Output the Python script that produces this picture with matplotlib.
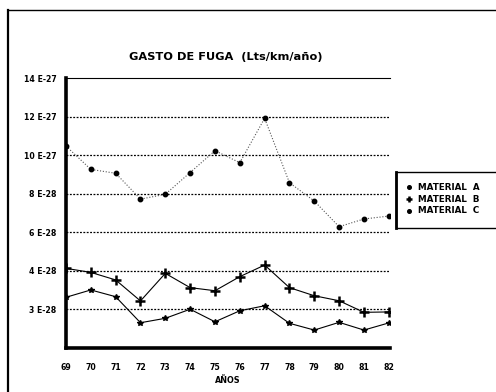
import matplotlib
matplotlib.use("Agg")
import matplotlib.pyplot as plt
from matplotlib.patches import Rectangle
from matplotlib.lines import Line2D

plt.rcParams['font.family'] = ['DejaVu Sans']

years = [69, 70, 71, 72, 73, 74, 75, 76, 77, 78, 79, 80, 81, 82]
year_labels = [str(y) for y in years]
material_a = [10.47, 9.26, 9.06, 7.72, 7.97, 9.1, 10.23, 9.61, 11.91, 8.57, 7.62, 6.29, 6.69, 6.84]
material_b = [4.13, 3.92, 3.53, 2.44, 3.87, 3.13, 2.97, 3.70, 4.30, 3.13, 2.71, 2.45, 1.85, 1.87]
material_c = [2.63, 3.01, 2.66, 1.31, 1.54, 2.01, 1.36, 1.93, 2.19, 1.28, 0.93, 1.33, 0.93, 1.30]
ytick_vals = [2, 4, 6, 8, 10, 12, 14]
ytick_labels = ["3 E-28", "4 E-28", "6 E-28", "8 E-28", "10 E-27", "12 E-27", "14 E-27"]
series_names = ["MATERIAL  A", "MATERIAL  B", "MATERIAL  C"]

fig = plt.figure(figsize=(4.96, 3.92), dpi=100)

# outer frame of the page
fig.add_artist(Line2D([8/496, 8/496], [0, 1 - 10/392], transform=fig.transFigure,
                      color='black', lw=1.6))
fig.add_artist(Line2D([8/496, 1], [1 - 10/392, 1 - 10/392], transform=fig.transFigure,
                      color='black', lw=1.0))

ax = fig.add_axes([66/496, 1 - 348/392, 324/496, 270/392])
ax.set_xlim(69, 82.05)
ax.set_ylim(0, 14)

for v in ytick_vals[:-1]:
    ax.axhline(v, color='black', lw=0.9, ls=(0, (1.5, 1.2)), zorder=1)

ax.plot(years, material_a, color='#555555', lw=0.8, ls=(0, (1, 1.6)),
        marker='o', ms=3.2, mfc='black', mec='black', zorder=3)
ax.plot(years, material_b, color='black', lw=0.8, ls='-',
        marker='+', ms=7, mew=1.8, mec='black', zorder=3)
ax.plot(years, material_c, color='black', lw=0.8, ls='-',
        marker='*', ms=4, mfc='black', mec='black', zorder=3)

ax.spines['right'].set_visible(False)
ax.spines['top'].set_linewidth(0.8)
ax.spines['left'].set_linewidth(2.6)
ax.spines['bottom'].set_linewidth(2.6)

ax.set_yticks(ytick_vals)
ax.set_yticklabels(ytick_labels, fontsize=5.6, fontweight='bold')
ax.set_xticks(years)
ax.set_xticklabels(year_labels, fontsize=5.6, fontweight='bold')
ax.tick_params(axis='y', length=0, pad=7)
ax.tick_params(axis='x', length=0, pad=11)

ax.set_xlabel("AÑOS", fontsize=5.8, fontweight='bold', labelpad=3)
fig.text(226/496, 1 - 57/392, "GASTO DE FUGA  (Lts/km/año)", ha='center', va='center',
         fontsize=8.2, fontweight='bold')

# legend box
fig.add_artist(Rectangle((396/496, 1 - 228/392), 110/496, 56/392,
                         transform=fig.transFigure, fill=False, ec='black', lw=1.0))
fig.add_artist(Line2D([396/496, 396/496], [1 - 228/392, 1 - 172/392],
                      transform=fig.transFigure, color='black', lw=2.0))
markers = [('o', 2.6, 1.0), ('+', 5, 1.8), ('o', 2.6, 1.0)]
ys = [187, 199, 211]
for name, (m, ms, mew), yy in zip(series_names, markers, ys):
    yf = 1 - yy/392
    fig.add_artist(Line2D([409/496], [yf], transform=fig.transFigure, marker=m,
                          ms=ms, mew=mew, color='black', mfc='black', ls='none'))
    fig.text(418/496, yf, name, fontsize=6.3, fontweight='bold', va='center', ha='left')

fig.savefig("out.png", dpi=100)
